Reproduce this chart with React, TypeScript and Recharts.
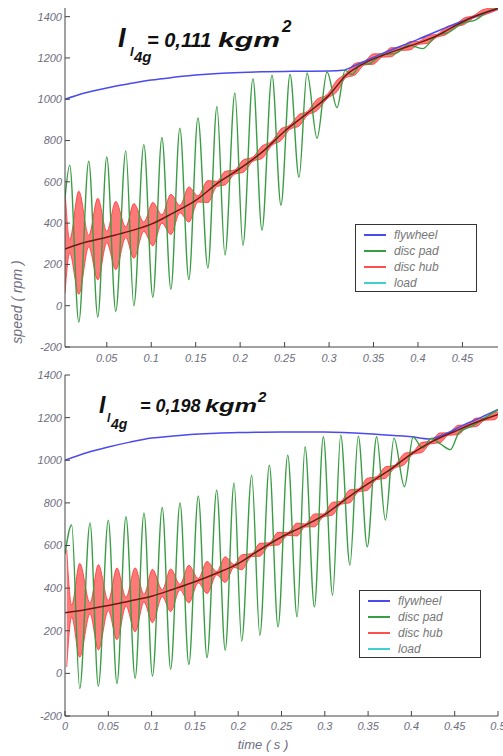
import React from 'react';
import { ComposedChart, Line, Area, XAxis, YAxis, Legend } from 'recharts';

// ---------- shared ----------
const LEGEND_NAMES = ['flywheel', 'disc pad', 'disc hub', 'load'];
const LEGEND_COLORS = ['#4a4af0', '#3a9d44', '#ff5050', '#40d0d0'];
const Y_TICKS = [-200, 0, 200, 400, 600, 800, 1000, 1200, 1400];

// ---------- top panel (I = 0,111 kgm2) ----------
const TOP_X_TICKS = [0.05, 0.1, 0.15, 0.2, 0.25, 0.3, 0.35, 0.4, 0.45];
const TOP_FLY_T = [0.003, 0.025, 0.05, 0.075, 0.1, 0.125, 0.15, 0.175, 0.2, 0.225, 0.25, 0.275, 0.3, 0.315, 0.33, 0.36, 0.4, 0.44, 0.49];
const TOP_FLY_V = [1000, 1030, 1055, 1075, 1093, 1106, 1117, 1125, 1130, 1133, 1135, 1136, 1137, 1140, 1165, 1222, 1290, 1362, 1440];

const TOP_PAD_T = [0.003, 0.0083, 0.0185, 0.0297, 0.0399, 0.05, 0.0601, 0.0714, 0.0804, 0.0917, 0.1018, 0.112, 0.1221, 0.1322, 0.1423, 0.1525, 0.1637, 0.1739, 0.1829, 0.1941, 0.2031, 0.2144, 0.2245, 0.2358, 0.2459, 0.2561, 0.2662, 0.2752, 0.2865, 0.2977, 0.309, 0.318, 0.326, 0.335, 0.345, 0.36, 0.375, 0.39, 0.405, 0.42, 0.435, 0.45, 0.465, 0.48, 0.49];
const TOP_PAD_V = [520, 681, -79, 700, -55, 720, -27, 750, 0, 780, 41, 815, 80, 860, 127, 910, 182, 965, 245, 1030, 293, 1100, 366, 1117, 487, 1120, 622, 1127, 811, 1132, 960, 1140, 1120, 1168, 1172, 1215, 1222, 1262, 1245, 1305, 1325, 1368, 1385, 1428, 1440];

const TOP_LOAD_T = [0.003, 0.02, 0.05, 0.075, 0.1, 0.125, 0.15, 0.175, 0.2, 0.225, 0.25, 0.275, 0.3, 0.32, 0.34, 0.36, 0.38, 0.4, 0.42, 0.44, 0.46, 0.49];
const TOP_LOAD_V = [275, 300, 332, 360, 395, 450, 510, 595, 665, 745, 845, 930, 1020, 1120, 1175, 1212, 1243, 1272, 1305, 1352, 1395, 1440];

const TOP_HUB_T = [0.003, 0.0083, 0.0185, 0.0297, 0.0399, 0.05, 0.0601, 0.0714, 0.0804, 0.0917, 0.1018, 0.112, 0.1221, 0.1322, 0.1423, 0.1525, 0.1637, 0.1739, 0.1829, 0.1941, 0.2031, 0.2144, 0.2245, 0.2358, 0.2459, 0.2561, 0.2662, 0.2752, 0.2865, 0.2977, 0.309, 0.319, 0.329, 0.34, 0.35, 0.36, 0.37, 0.38, 0.391, 0.401, 0.411, 0.421, 0.432, 0.442, 0.452, 0.462, 0.473, 0.49];
const TOP_HUB_LO = [60, 255, 55, 285, 125, 305, 175, 330, 230, 360, 290, 400, 345, 450, 405, 502, 500, 578, 585, 638, 645, 700, 713, 777, 800, 855, 870, 920, 945, 1002, 1037, 1105, 1117, 1166, 1170, 1204, 1206, 1236, 1239, 1266, 1270, 1300, 1314, 1350, 1362, 1392, 1406, 1434];
const TOP_HUB_HI = [560, 320, 555, 340, 520, 360, 505, 382, 495, 405, 500, 440, 540, 485, 575, 532, 606, 602, 650, 658, 705, 720, 773, 797, 856, 875, 926, 940, 1000, 1022, 1093, 1125, 1173, 1184, 1220, 1220, 1250, 1250, 1279, 1280, 1310, 1314, 1350, 1362, 1394, 1404, 1434, 1446];

// ---------- bottom panel (I = 0,198 kgm2) ----------
const BOT_X_TICKS = [0, 0.05, 0.1, 0.15, 0.2, 0.25, 0.3, 0.35, 0.4, 0.45, 0.5];
const BOT_FLY_T = [0, 0.025, 0.05, 0.075, 0.1, 0.125, 0.15, 0.175, 0.2, 0.25, 0.3, 0.35, 0.38, 0.4, 0.42, 0.44, 0.46, 0.48, 0.5];
const BOT_FLY_V = [1000, 1035, 1062, 1085, 1104, 1114, 1122, 1127, 1130, 1133, 1132, 1124, 1116, 1110, 1100, 1125, 1165, 1200, 1238];

const BOT_PAD_T = [0, 0.0077, 0.017, 0.0289, 0.0385, 0.05, 0.06, 0.0704, 0.081, 0.0912, 0.101, 0.1123, 0.122, 0.1328, 0.143, 0.1539, 0.164, 0.1752, 0.185, 0.1952, 0.204, 0.2156, 0.225, 0.236, 0.246, 0.2572, 0.268, 0.2772, 0.288, 0.2983, 0.309, 0.3184, 0.329, 0.3387, 0.349, 0.3599, 0.37, 0.3799, 0.392, 0.402, 0.413, 0.423, 0.434, 0.445, 0.455, 0.47, 0.485, 0.5];
const BOT_PAD_V = [560, 696, -71, 706, -60, 719, -48, 735, -23, 753, -12, 778, 20, 800, 42, 832, 74, 860, 109, 894, 152, 930, 179, 977, 218, 1024, 265, 1063, 312, 1110, 367, 1118, 508, 1113, 594, 1110, 719, 1104, 876, 1108, 1058, 1102, 1075, 1050, 1130, 1160, 1200, 1236];

const BOT_LOAD_T = [0, 0.025, 0.05, 0.075, 0.1, 0.125, 0.15, 0.175, 0.2, 0.225, 0.25, 0.275, 0.3, 0.325, 0.35, 0.375, 0.4, 0.425, 0.45, 0.475, 0.5];
const BOT_LOAD_V = [285, 300, 318, 340, 362, 395, 430, 470, 515, 580, 640, 690, 745, 820, 890, 955, 1030, 1090, 1135, 1178, 1215];

const BOT_HUB_T = [0.002, 0.0077, 0.017, 0.0289, 0.0385, 0.05, 0.06, 0.0704, 0.081, 0.0912, 0.101, 0.1123, 0.122, 0.1328, 0.143, 0.1539, 0.164, 0.1752, 0.185, 0.1952, 0.204, 0.2156, 0.225, 0.236, 0.246, 0.2572, 0.268, 0.2772, 0.288, 0.2983, 0.309, 0.3184, 0.329, 0.3387, 0.349, 0.3599, 0.37, 0.3799, 0.392, 0.402, 0.412, 0.422, 0.433, 0.443, 0.454, 0.464, 0.475, 0.485, 0.496, 0.5];
const BOT_HUB_LO = [30, 265, 76, 280, 110, 295, 158, 315, 195, 335, 238, 360, 290, 392, 331, 425, 375, 462, 427, 497, 486, 548, 550, 599, 602, 647, 645, 687, 688, 734, 743, 793, 801, 851, 859, 909, 915, 961, 980, 1029, 1036, 1077, 1082, 1117, 1120, 1154, 1158, 1188, 1190, 1205];
const BOT_HUB_HI = [580, 320, 516, 330, 510, 342, 494, 357, 495, 371, 488, 392, 490, 418, 507, 445, 525, 478, 547, 511, 556, 562, 610, 613, 662, 661, 705, 701, 748, 748, 803, 807, 861, 865, 915, 923, 969, 975, 1032, 1041, 1084, 1089, 1128, 1129, 1164, 1166, 1198, 1198, 1228, 1225];

type Row = { t: number; [k: string]: any };
function merge(series: { key: string; t: number[]; v: any[] }[]): Row[] {
  const map = new Map<number, Row>();
  series.forEach((s) =>
    s.t.forEach((t, i) => {
      const r = map.get(t) ?? { t };
      r[s.key] = s.v[i];
      map.set(t, r);
    })
  );
  return Array.from(map.values()).sort((a, b) => a.t - b.t);
}

const topData = merge([
  { key: 'flywheel', t: TOP_FLY_T, v: TOP_FLY_V },
  { key: 'pad', t: TOP_PAD_T, v: TOP_PAD_V },
  { key: 'load', t: TOP_LOAD_T, v: TOP_LOAD_V },
  { key: 'hub', t: TOP_HUB_T, v: TOP_HUB_T.map((_, i) => [TOP_HUB_LO[i], TOP_HUB_HI[i]]) },
]);
const botData = merge([
  { key: 'flywheel', t: BOT_FLY_T, v: BOT_FLY_V },
  { key: 'pad', t: BOT_PAD_T, v: BOT_PAD_V },
  { key: 'load', t: BOT_LOAD_T, v: BOT_LOAD_V },
  { key: 'hub', t: BOT_HUB_T, v: BOT_HUB_T.map((_, i) => [BOT_HUB_LO[i], BOT_HUB_HI[i]]) },
]);

const FONT = '"Liberation Sans", Arial, sans-serif';
const tickStyle = { fontSize: 11, fontStyle: 'italic', fill: '#6e6e80', fontFamily: FONT };

const renderLegend = () => (
  <div style={{ border: '1px solid #333', background: '#fff', width: 122, height: 68, boxSizing: 'border-box', padding: '2px 0 0 8px', fontFamily: FONT }}>
    {LEGEND_NAMES.map((n, i) => (
      <div key={n} style={{ display: 'flex', alignItems: 'center', height: 16 }}>
        <span style={{ display: 'inline-block', width: 22, height: 2, background: LEGEND_COLORS[i], marginRight: 8 }} />
        <span style={{ fontSize: 12, fontStyle: 'italic', color: '#777' }}>{n}</span>
      </div>
    ))}
  </div>
);

function Panel(props: {
  data: Row[];
  height: number;
  marginTop: number;
  xHeight: number;
  xDomain: [number, number];
  xTicks: number[];
  yDomain: [number, number];
  xTickMargin: number;
  legendLeft: number;
  legendTop: number;
}) {
  const { data, height, marginTop, xHeight, xDomain, xTicks, yDomain, xTickMargin, legendLeft, legendTop } = props;
  return (
    <ComposedChart width={503} height={height} data={data} margin={{ top: marginTop, right: 5, bottom: 0, left: 0 }}>
      <XAxis
        dataKey="t"
        type="number"
        domain={xDomain}
        ticks={xTicks}
        allowDataOverflow
        interval={0}
        height={xHeight}
        tickSize={-5}
        tickMargin={xTickMargin}
        tick={tickStyle}
        axisLine={{ stroke: '#444' }}
        tickLine={{ stroke: '#444' }}
      />
      <XAxis
        xAxisId="top"
        orientation="top"
        dataKey="t"
        type="number"
        domain={xDomain}
        ticks={xTicks}
        allowDataOverflow
        interval={0}
        height={0}
        tickSize={-5}
        tick={false}
        axisLine={{ stroke: '#777' }}
        tickLine={{ stroke: '#777' }}
      />
      <YAxis
        type="number"
        domain={yDomain}
        ticks={Y_TICKS}
        allowDataOverflow
        interval={0}
        width={65}
        tickSize={-5}
        tickMargin={8}
        tick={tickStyle}
        axisLine={{ stroke: '#444' }}
        tickLine={{ stroke: '#444' }}
      />
      <YAxis
        yAxisId="right"
        orientation="right"
        type="number"
        domain={yDomain}
        ticks={Y_TICKS}
        allowDataOverflow
        interval={0}
        width={0}
        tickSize={-5}
        tick={false}
        axisLine={{ stroke: '#777' }}
        tickLine={{ stroke: '#777' }}
      />
      <Line dataKey="flywheel" type="monotone" stroke={LEGEND_COLORS[0]} strokeWidth={1.5} dot={false} activeDot={false} connectNulls isAnimationActive={false} />
      <Line dataKey="pad" type="monotone" stroke={LEGEND_COLORS[1]} strokeWidth={1.4} dot={false} activeDot={false} connectNulls isAnimationActive={false} />
      <Area dataKey="hub" type="monotone" stroke="#ff3030" strokeWidth={0.8} fill="#ff4040" fillOpacity={0.7} dot={false} activeDot={false} connectNulls isAnimationActive={false} />
      <Line dataKey="load" type="monotone" stroke="#6e1a12" strokeWidth={1.5} dot={false} activeDot={false} connectNulls isAnimationActive={false} />
      <Legend
        layout="vertical"
        align="center"
        verticalAlign="middle"
        content={renderLegend}
        wrapperStyle={{ position: 'absolute', left: legendLeft, top: legendTop, width: 122, height: 68 }}
      />
    </ComposedChart>
  );
}

export default function App() {
  return (
    <div style={{ position: 'absolute', left: 0, top: 0, width: 503, height: 756, background: '#fff', overflow: 'hidden' }}>
      <div style={{ position: 'absolute', left: 0, top: 0 }}>
        <Panel data={topData} height={370} marginTop={8} xHeight={23} xDomain={[0.003, 0.49]} xTicks={TOP_X_TICKS} yDomain={[-200, 1442]} xTickMargin={12} legendLeft={355} legendTop={224} />
      </div>
      <div style={{ position: 'absolute', left: 0, top: 370 }}>
        <Panel data={botData} height={386} marginTop={5} xHeight={40} xDomain={[0, 0.5]} xTicks={BOT_X_TICKS} yDomain={[-200, 1400]} xTickMargin={11} legendLeft={359} legendTop={220} />
      </div>
      <svg width={503} height={756} style={{ position: 'absolute', left: 0, top: 0, pointerEvents: 'none' }}>
        <g fontFamily={FONT} fontWeight="bold" fontStyle="italic" fill="#111">
          <text x={118} y={47} fontSize={27}>I</text>
          <text x={130} y={56} fontSize={13}>l</text>
          <text x={134} y={62} fontSize={15}>4g</text>
          <text x={147} y={47} fontSize={20}>= 0,111</text>
          <text x={218} y={47} fontSize={21} textLength={62} lengthAdjust="spacingAndGlyphs">kgm</text>
          <text x={282} y={32} fontSize={17}>2</text>

          <text x={99} y={413} fontSize={23}>I</text>
          <text x={107} y={422} fontSize={12}>l</text>
          <text x={111} y={429} fontSize={14}>4g</text>
          <text x={140} y={412} fontSize={18}>= 0,198</text>
          <text x={205} y={412} fontSize={19} textLength={52} lengthAdjust="spacingAndGlyphs">kgm</text>
          <text x={258} y={402} fontSize={15}>2</text>
        </g>
        <text x={0} y={0} transform="translate(22 302) rotate(-90)" textAnchor="middle" fontFamily={FONT} fontStyle="italic" fontSize={14} fill="#6e6e80">speed ( rpm )</text>
        <text x={263} y={749} textAnchor="middle" fontFamily={FONT} fontStyle="italic" fontSize={13} fill="#6e6e80">time ( s )</text>
      </svg>
    </div>
  );
}
